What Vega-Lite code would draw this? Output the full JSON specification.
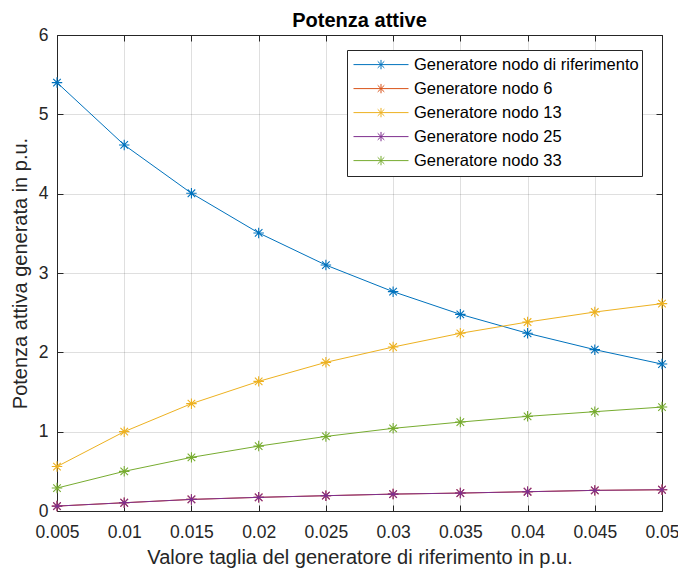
{
  "$schema": "https://vega.github.io/schema/vega-lite/v6.json",
  "width": 605,
  "height": 476,
  "autosize": {"type": "none"},
  "padding": {"left": 57, "top": 35, "right": 16, "bottom": 57},
  "background": "white",
  "title": {"text": "Potenza attive", "font": "Liberation Sans", "fontSize": 20, "fontWeight": "bold", "color": "#000000", "offset": -5, "anchor": "middle"},
  "config": {
    "view": {"stroke": null},
    "axis": {
      "labelFont": "Liberation Sans", "labelFontSize": 17.5, "labelColor": "#262626",
      "titleFont": "Liberation Sans", "titleFontSize": 20, "titleFontWeight": "normal", "titleColor": "#262626",
      "domainColor": "#262626", "domainWidth": 1, "tickColor": "#262626", "tickWidth": 1,
      "gridColor": "#262626", "gridOpacity": 0.15, "gridWidth": 1
    },
    "legend": {
      "labelFont": "Liberation Sans", "labelFontSize": 16.5, "labelColor": "#000000", "labelLimit": 400
    }
  },
  "data": {"values": [
    {"x": 0.005, "s": "Generatore nodo di riferimento", "y": 5.40},
    {"x": 0.01, "s": "Generatore nodo di riferimento", "y": 4.614},
    {"x": 0.015, "s": "Generatore nodo di riferimento", "y": 4.005},
    {"x": 0.02, "s": "Generatore nodo di riferimento", "y": 3.505},
    {"x": 0.025, "s": "Generatore nodo di riferimento", "y": 3.10},
    {"x": 0.03, "s": "Generatore nodo di riferimento", "y": 2.765},
    {"x": 0.035, "s": "Generatore nodo di riferimento", "y": 2.479},
    {"x": 0.04, "s": "Generatore nodo di riferimento", "y": 2.24},
    {"x": 0.045, "s": "Generatore nodo di riferimento", "y": 2.034},
    {"x": 0.05, "s": "Generatore nodo di riferimento", "y": 1.852},
    {"x": 0.005, "s": "Generatore nodo 6", "y": 0.062},
    {"x": 0.01, "s": "Generatore nodo 6", "y": 0.104},
    {"x": 0.015, "s": "Generatore nodo 6", "y": 0.146},
    {"x": 0.02, "s": "Generatore nodo 6", "y": 0.172},
    {"x": 0.025, "s": "Generatore nodo 6", "y": 0.193},
    {"x": 0.03, "s": "Generatore nodo 6", "y": 0.213},
    {"x": 0.035, "s": "Generatore nodo 6", "y": 0.226},
    {"x": 0.04, "s": "Generatore nodo 6", "y": 0.243},
    {"x": 0.045, "s": "Generatore nodo 6", "y": 0.26},
    {"x": 0.05, "s": "Generatore nodo 6", "y": 0.268},
    {"x": 0.005, "s": "Generatore nodo 13", "y": 0.56},
    {"x": 0.01, "s": "Generatore nodo 13", "y": 1.0},
    {"x": 0.015, "s": "Generatore nodo 13", "y": 1.353},
    {"x": 0.02, "s": "Generatore nodo 13", "y": 1.634},
    {"x": 0.025, "s": "Generatore nodo 13", "y": 1.874},
    {"x": 0.03, "s": "Generatore nodo 13", "y": 2.067},
    {"x": 0.035, "s": "Generatore nodo 13", "y": 2.24},
    {"x": 0.04, "s": "Generatore nodo 13", "y": 2.382},
    {"x": 0.045, "s": "Generatore nodo 13", "y": 2.508},
    {"x": 0.05, "s": "Generatore nodo 13", "y": 2.614},
    {"x": 0.005, "s": "Generatore nodo 25", "y": 0.062},
    {"x": 0.01, "s": "Generatore nodo 25", "y": 0.104},
    {"x": 0.015, "s": "Generatore nodo 25", "y": 0.146},
    {"x": 0.02, "s": "Generatore nodo 25", "y": 0.172},
    {"x": 0.025, "s": "Generatore nodo 25", "y": 0.193},
    {"x": 0.03, "s": "Generatore nodo 25", "y": 0.213},
    {"x": 0.035, "s": "Generatore nodo 25", "y": 0.226},
    {"x": 0.04, "s": "Generatore nodo 25", "y": 0.243},
    {"x": 0.045, "s": "Generatore nodo 25", "y": 0.26},
    {"x": 0.05, "s": "Generatore nodo 25", "y": 0.268},
    {"x": 0.005, "s": "Generatore nodo 33", "y": 0.289},
    {"x": 0.01, "s": "Generatore nodo 33", "y": 0.50},
    {"x": 0.015, "s": "Generatore nodo 33", "y": 0.676},
    {"x": 0.02, "s": "Generatore nodo 33", "y": 0.818},
    {"x": 0.025, "s": "Generatore nodo 33", "y": 0.94},
    {"x": 0.03, "s": "Generatore nodo 33", "y": 1.042},
    {"x": 0.035, "s": "Generatore nodo 33", "y": 1.121},
    {"x": 0.04, "s": "Generatore nodo 33", "y": 1.193},
    {"x": 0.045, "s": "Generatore nodo 33", "y": 1.252},
    {"x": 0.05, "s": "Generatore nodo 33", "y": 1.31}
  ]},
  "resolve": {"axis": {"x": "independent", "y": "independent"}},
  "layer": [
    {
      "mark": {"type": "point", "opacity": 0},
      "encoding": {
        "x": {"field": "x", "type": "quantitative", "scale": {"domain": [0.005, 0.05], "nice": false, "zero": false},
              "axis": {"orient": "top", "values": [0.005, 0.01, 0.015, 0.02, 0.025, 0.03, 0.035, 0.04, 0.045, 0.05], "labels": false, "grid": false, "tickSize": -6, "title": null}},
        "y": {"field": "y", "type": "quantitative", "scale": {"domain": [0, 6], "nice": false, "zero": false},
              "axis": {"orient": "right", "values": [0, 1, 2, 3, 4, 5, 6], "labels": false, "grid": false, "tickSize": -6, "title": null}}
      }
    },
    {
      "transform": [{"filter": "datum.s !== 'Generatore nodo 25'"}],
      "mark": {"type": "line", "strokeWidth": 1},
      "encoding": {
        "x": {"field": "x", "type": "quantitative",
              "axis": {"orient": "bottom", "values": [0.005, 0.01, 0.015, 0.02, 0.025, 0.03, 0.035, 0.04, 0.045, 0.05], "labelExpr": "format(datum.value, '~g')", "grid": true, "tickSize": -6, "labelPadding": 18, "labelFlush": false, "title": "Valore taglia del generatore di riferimento in p.u.", "titlePadding": 7}},
        "y": {"field": "y", "type": "quantitative",
              "axis": {"orient": "left", "values": [0, 1, 2, 3, 4, 5, 6], "grid": true, "tickSize": -6, "labelPadding": 15, "labelFlush": false, "title": "Potenza attiva generata in p.u.", "titlePadding": 8}},
        "color": {"field": "s", "type": "nominal",
                  "scale": {"domain": ["Generatore nodo di riferimento", "Generatore nodo 6", "Generatore nodo 13", "Generatore nodo 25", "Generatore nodo 33"],
                            "range": ["#0072BD", "#D95319", "#EDB120", "#7E2F8E", "#77AC30"]},
                  "legend": {"title": null, "orient": "none", "legendX": 290, "legendY": 15,
                             "symbolType": "M-1,0L1,0M0,-0.17L0,0.17M-0.12,-0.12L0.12,0.12M-0.12,0.12L0.12,-0.12",
                             "symbolSize": 3025, "symbolStrokeWidth": 1, "symbolFillColor": "transparent",
                             "padding": 3, "symbolOffset": 3, "labelOffset": 5, "clipHeight": 23.2, "rowPadding": 0,
                             "strokeColor": "#262626", "fillColor": "white"}}
      }
    },
    {
      "transform": [{"filter": "datum.s !== 'Generatore nodo 25'"}],
      "mark": {"type": "point", "filled": false, "strokeWidth": 1.1, "opacity": 1, "size": 110,
               "shape": "M-1,0L1,0M0,-1L0,1M-0.72,-0.72L0.72,0.72M-0.72,0.72L0.72,-0.72"},
      "encoding": {
        "x": {"field": "x", "type": "quantitative", "axis": null},
        "y": {"field": "y", "type": "quantitative", "axis": null},
        "color": {"field": "s", "type": "nominal"}
      }
    },
    {
      "transform": [{"filter": "datum.s === 'Generatore nodo 25'"}],
      "mark": {"type": "line", "strokeWidth": 1},
      "encoding": {
        "x": {"field": "x", "type": "quantitative", "axis": null},
        "y": {"field": "y", "type": "quantitative", "axis": null},
        "color": {"field": "s", "type": "nominal"}
      }
    },
    {
      "transform": [{"filter": "datum.s === 'Generatore nodo 25'"}],
      "mark": {"type": "point", "filled": false, "strokeWidth": 1.1, "opacity": 1, "size": 110,
               "shape": "M-1,0L1,0M0,-1L0,1M-0.72,-0.72L0.72,0.72M-0.72,0.72L0.72,-0.72"},
      "encoding": {
        "x": {"field": "x", "type": "quantitative", "axis": null},
        "y": {"field": "y", "type": "quantitative", "axis": null},
        "color": {"field": "s", "type": "nominal"}
      }
    }
  ]
}
